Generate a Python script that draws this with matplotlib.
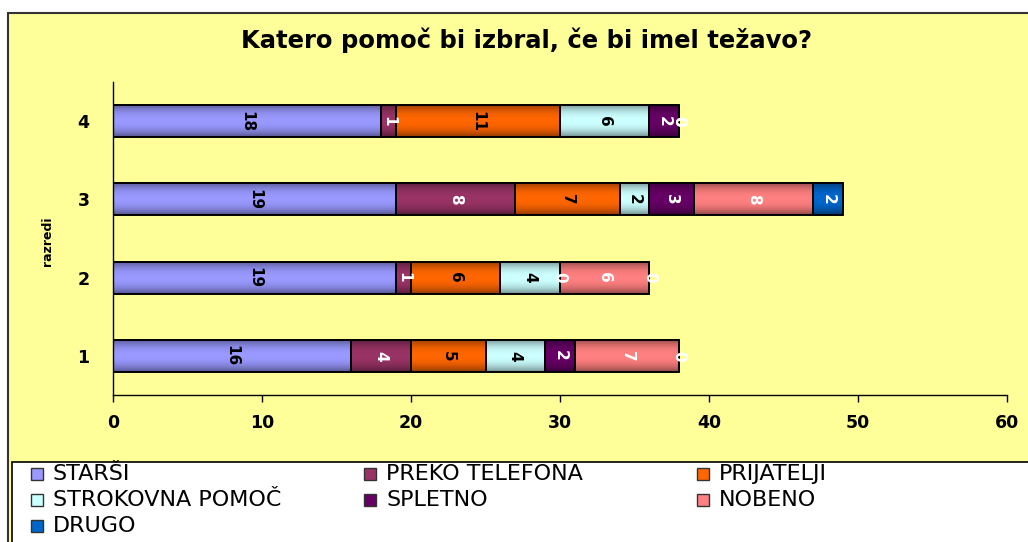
import matplotlib.pyplot as plt
from matplotlib.patches import Rectangle
import numpy as np

plt.rcParams['font.family'] = ['DejaVu Sans']

# data
razredi = ['1', '2', '3', '4']
serije = ['STARŠI', 'PREKO TELEFONA', 'PRIJATELJI', 'STROKOVNA POMOČ',
          'SPLETNO', 'NOBENO', 'DRUGO']
starsi = [16, 19, 19, 18]
preko_telefona = [4, 1, 8, 1]
prijatelji = [5, 6, 7, 11]
strokovna = [4, 4, 2, 6]
spletno = [2, 0, 3, 2]
nobeno = [7, 6, 8, 0]
drugo = [0, 0, 2, 0]

barve = ['#9999FF', '#993366', '#FF6600', '#CCFFFF', '#660066', '#FF8080', '#0066CC']
barve_napis = ['black', 'white', 'black', 'black', 'white', 'white', 'white']

W, H = 1028, 542
fig = plt.figure(figsize=(W / 100, H / 100), dpi=100, facecolor='white')

# yellow chart area with border
fig.patches.append(Rectangle((8 / W, -0.1), 1.1, 1 - 13 / H + 0.1,
                             transform=fig.transFigure, facecolor='#FFFF99',
                             edgecolor='#333333', lw=1.5, zorder=-10))

ax = fig.add_axes([113 / W, 1 - 395 / H, (1007 - 113) / W, (395 - 82) / H])
ax.set_facecolor('none')
ax.set_zorder(5)

# shading profile for the bars (darker top/bottom edge)
t = np.linspace(-1, 1, 64)
senca = np.zeros((64, 2, 4))
senca[:, :, 3] = (0.45 * np.abs(t) ** 2.2)[:, None]

vrednosti = [starsi, preko_telefona, prijatelji, strokovna, spletno, nobeno, drugo]
y = np.arange(len(razredi))
h = 0.41
left = np.zeros(len(razredi))
for i, v in enumerate(vrednosti):
    v = np.array(v, dtype=float)
    bars = ax.barh(y, v, left=left, height=h, color=barve[i], edgecolor='black',
                   lw=1.2, label=serije[i], zorder=2)
    for j, b in enumerate(bars):
        if v[j] > 0:
            ax.imshow(senca, extent=(left[j], left[j] + v[j], y[j] - h / 2, y[j] + h / 2),
                      aspect='auto', interpolation='bilinear', zorder=2.1)
        ax.text(left[j] + v[j] / 2, y[j], str(int(v[j])), rotation=270,
                ha='center', va='center', color=barve_napis[i],
                fontsize=11, fontweight='bold', zorder=3)
    # redraw outlines on top of shading
    ax.barh(y, v, left=left, height=h, color='none', edgecolor='black',
            lw=1.2, zorder=2.2)
    left += v

ax.set_xlim(0, 60)
ax.set_ylim(-0.5, 3.5)
ax.set_xticks(np.arange(0, 61, 10))
ax.set_yticks(y)
ax.set_yticklabels(razredi)
for s in ['top', 'right']:
    ax.spines[s].set_visible(False)
ax.spines['left'].set_linewidth(1)
ax.spines['bottom'].set_linewidth(1)
ax.tick_params(axis='x', length=5, width=1, pad=9, labelsize=12.5)
ax.tick_params(axis='y', length=0, pad=17, labelsize=12.5)
for tl in ax.get_xticklabels() + ax.get_yticklabels():
    tl.set_fontweight('bold')

fig.text(47 / W, 1 - 241 / H, 'razredi', rotation=90, ha='center', va='center',
         fontsize=9, fontweight='bold')
fig.text(527 / W, 1 - 40 / H, 'Katero pomoč bi izbral, če bi imel težavo?',
         ha='center', va='center', fontsize=17.5, fontweight='bold')

# legend drawn by hand (row-wise order like the original)
fig.patches.append(Rectangle((12 / W, -0.1), 1.1, 1 - 462 / H + 0.1,
                             transform=fig.transFigure, facecolor='white',
                             edgecolor='black', lw=1.2, zorder=-5))
stolpci_x = [31, 364, 697]
vrstice_y = [474, 500, 526]
for i, ime in enumerate(serije):
    x0 = stolpci_x[i % 3]
    y0 = vrstice_y[i // 3]
    fig.patches.append(Rectangle((x0 / W, 1 - (y0 + 6) / H), 12 / W, 12 / H,
                                 transform=fig.transFigure, facecolor=barve[i],
                                 edgecolor='#333333', lw=1, zorder=-4))
    fig.text((x0 + 22) / W, 1 - y0 / H, ime, ha='left', va='center',
             fontsize=16, zorder=3)

fig.savefig('out.png', dpi=100, facecolor=fig.get_facecolor())
